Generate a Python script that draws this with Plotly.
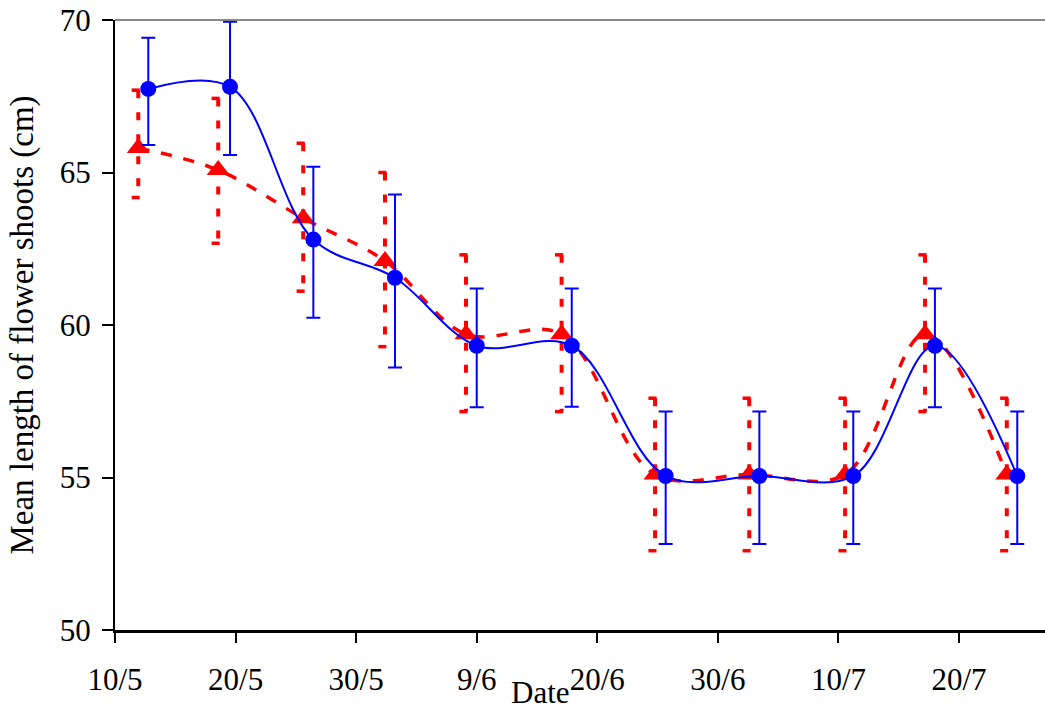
import plotly.graph_objects as go

# ---- data (x in days after 10/5) ----
tick_vals = [0, 10, 20, 30, 40, 50, 60, 70]
tick_text = ["10/5", "20/5", "30/5", "9/6", "20/6", "30/6", "10/7", "20/7"]

blue_x = [2.76, 9.54, 16.45, 23.22, 30.0, 37.88, 45.67, 53.44, 61.23, 68.0, 74.83]
blue_y = [67.74, 67.81, 62.8, 61.55, 59.32, 59.32, 55.05, 55.05, 55.05, 59.32, 55.05]
blue_err_plus = [1.68, 2.13, 2.39, 2.73, 1.88, 1.88, 2.11, 2.11, 2.11, 1.88, 2.11]
blue_err_minus = [1.84, 2.24, 2.56, 2.94, 2.02, 2.0, 2.23, 2.23, 2.23, 2.02, 2.23]

red_x = [1.93, 8.56, 15.61, 22.39, 29.11, 37.04, 44.79, 52.6, 60.55, 67.18, 73.96]
red_y = [65.8, 65.08, 63.5, 62.1, 59.7, 59.7, 55.1, 55.1, 55.1, 59.7, 55.1]
red_err_plus = [1.9, 2.35, 2.46, 2.9, 2.6, 2.6, 2.5, 2.5, 2.5, 2.6, 2.5]
red_err_minus = [1.62, 2.4, 2.39, 2.81, 2.54, 2.54, 2.5, 2.5, 2.5, 2.54, 2.5]

FONT = "Liberation Serif"
FS = 31
RED = "#FF0000"
BLUE = "#0000FF"

fig = go.Figure()

# red dashed error bars (vertical parts)
ex, ey = [], []
for x, y, p, m in zip(red_x, red_y, red_err_plus, red_err_minus):
    ex += [x, x, None]
    ey += [y + p, y - m, None]
fig.add_trace(go.Scatter(x=ex, y=ey, mode="lines", showlegend=False, hoverinfo="skip",
                         line=dict(color=RED, width=4, dash="8px,14px")))
# red caps (left half visible as in the dashed original)
cx, cy = [], []
cap = 0.55
for x, y, p, m in zip(red_x, red_y, red_err_plus, red_err_minus):
    cx += [x - cap, x + 0.12, None, x - cap, x + 0.12, None]
    cy += [y + p, y + p, None, y - m, y - m, None]
fig.add_trace(go.Scatter(x=cx, y=cy, mode="lines", showlegend=False, hoverinfo="skip",
                         line=dict(color=RED, width=3.5)))

# red series
fig.add_trace(go.Scatter(x=red_x, y=red_y, mode="lines+markers", showlegend=False,
                         line=dict(color=RED, width=3.5, dash="11px,12px", shape="spline"),
                         marker=dict(symbol="triangle-up", size=20, color=RED)))

# blue series
fig.add_trace(go.Scatter(x=blue_x, y=blue_y, mode="lines+markers", showlegend=False,
                         line=dict(color=BLUE, width=2, shape="spline"),
                         marker=dict(symbol="circle", size=16, color=BLUE),
                         error_y=dict(type="data", symmetric=False, array=blue_err_plus,
                                      arrayminus=blue_err_minus, color=BLUE,
                                      thickness=2, width=7)))

# top border (grey)
fig.add_shape(type="line", xref="paper", yref="paper", x0=0, x1=1, y0=1, y1=1,
              line=dict(color="#888888", width=2))

fig.add_annotation(text="Date", xref="paper", yref="paper", x=0.457, y=-0.103,
                   xanchor="center", yanchor="middle", showarrow=False,
                   font=dict(family=FONT, size=FS, color="black"))

fig.update_layout(
    width=1045, height=709,
    margin=dict(l=115, r=0, t=20, b=79),
    paper_bgcolor="white", plot_bgcolor="white",
    template="none",
    showlegend=False,
    font=dict(family=FONT, size=FS, color="black"),
    xaxis=dict(range=[0, 77.13], tickmode="array", tickvals=tick_vals, ticktext=tick_text,
               ticks="outside", ticklen=10, tickwidth=2, tickcolor="black",
               showline=True, linecolor="black", linewidth=2.5,
               showgrid=False, zeroline=False, automargin=False,
               ticklabelstandoff=10,
               tickfont=dict(family=FONT, size=FS, color="black")),
    yaxis=dict(range=[50, 70], tickmode="array", tickvals=[50, 55, 60, 65, 70],
               ticks="outside", ticklen=11, tickwidth=2, tickcolor="black",
               showline=True, linecolor="black", linewidth=2,
               showgrid=False, zeroline=False, automargin=False,
               ticklabelstandoff=5,
               tickfont=dict(family=FONT, size=FS, color="black"),
               title=dict(text="Mean length of flower shoots (cm)", standoff=16,
                          font=dict(family=FONT, size=33, color="black"))),
)

fig.write_html("out.html",
               config={"displayModeBar": False},
               post_script="document.body.style.margin='0';document.body.style.padding='0';")
